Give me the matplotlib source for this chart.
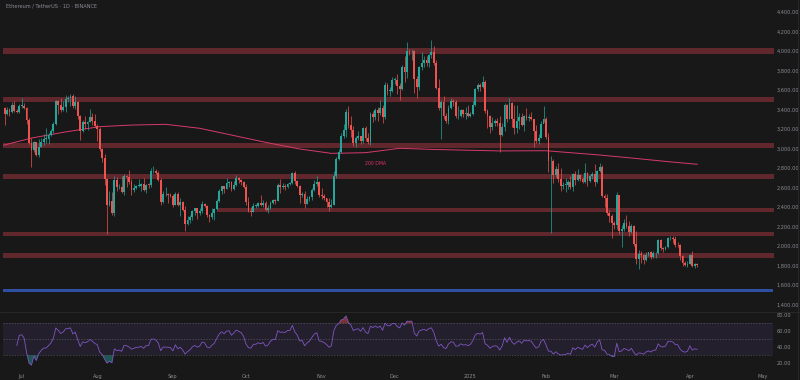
import datetime as dt
import numpy as np
import pandas as pd
import matplotlib
matplotlib.use("Agg")
import matplotlib.pyplot as plt
import matplotlib.dates as mdates
from matplotlib.ticker import FuncFormatter

# ETH/USDT daily candles, 2024-06-24 .. 2025-04-04 (open = previous close)
start_day = dt.date(2024, 6, 24)
first_open = 3420

close = [
    3350, 3390, 3370, 3450, 3380, 3375, 3435,  # Jun
    3440, 3420, 3290, 3060, 2980, 3070, 2930, 3020, 3065, 3100, 3100, 3135, 3175, 3250, 3485, 3445,
    3390, 3425, 3510, 3520, 3535, 3440, 3480, 3335, 3175, 3275, 3250, 3270, 3320, 3280, 3230,  # Jul
    3200, 2990, 2905, 2690, 2420, 2460, 2340, 2680, 2600, 2610, 2555, 2720, 2705, 2660, 2570, 2590,
    2615, 2615, 2635, 2575, 2630, 2625, 2765, 2770, 2750, 2680, 2455, 2530, 2530, 2525, 2515,  # Aug
    2425, 2535, 2420, 2450, 2370, 2225, 2270, 2300, 2360, 2385, 2340, 2360, 2435, 2415, 2315, 2295,
    2340, 2375, 2465, 2560, 2615, 2580, 2645, 2655, 2580, 2630, 2700, 2680, 2660, 2600,  # Sep
    2450, 2360, 2350, 2415, 2415, 2440, 2420, 2440, 2370, 2385, 2440, 2470, 2465, 2630, 2605, 2610,
    2605, 2640, 2645, 2745, 2665, 2620, 2525, 2535, 2435, 2480, 2505, 2570, 2635, 2660, 2520,  # Oct
    2515, 2490, 2455, 2400, 2420, 2720, 2895, 2960, 3130, 3185, 3370, 3245, 3185, 3060, 3105, 3130,
    3075, 3210, 3105, 3070, 3355, 3325, 3395, 3360, 3415, 3325, 3655, 3590, 3590, 3705,  # Nov
    3705, 3640, 3610, 3835, 3785, 4000, 3995, 4005, 3715, 3630, 3835, 3880, 3905, 3875, 3960, 3990,
    3875, 3625, 3415, 3475, 3330, 3280, 3420, 3490, 3480, 3330, 3330, 3395, 3350, 3360, 3330,  # Dec
    3355, 3450, 3605, 3655, 3635, 3685, 3380, 3330, 3220, 3265, 3280, 3265, 3135, 3225, 3450, 3305,
    3470, 3305, 3215, 3285, 3325, 3240, 3330, 3310, 3320, 3300, 3180, 3080, 3110, 3250, 3300,  # Jan
    3120, 2870, 2870, 2730, 2785, 2685, 2620, 2630, 2630, 2660, 2605, 2740, 2675, 2725, 2690, 2660,
    2745, 2670, 2715, 2740, 2660, 2765, 2815, 2510, 2495, 2335, 2305, 2235,  # Feb
    2215, 2520, 2150, 2170, 2240, 2200, 2140, 2200, 2020, 1865, 1920, 1910, 1860, 1910, 1935, 1890,
    1925, 1930, 2060, 1980, 1965, 1985, 2080, 2085, 2070, 2010, 2005, 1895, 1830, 1805, 1820,  # Mar
    1905, 1795, 1815, 1800,  # Apr
]
high = [
    3430, 3430, 3420, 3480, 3490, 3400, 3460,
    3520, 3465, 3430, 3310, 3110, 3080, 3070, 3100, 3110, 3150, 3215, 3155, 3200, 3270, 3500, 3500,
    3515, 3490, 3545, 3540, 3560, 3560, 3540, 3490, 3345, 3290, 3330, 3285, 3400, 3360, 3350,
    3250, 3220, 3010, 2940, 2700, 2560, 2550, 2720, 2710, 2640, 2720, 2740, 2730, 2780, 2690, 2640,
    2630, 2690, 2650, 2695, 2640, 2650, 2800, 2820, 2790, 2765, 2700, 2560, 2600, 2540, 2540,
    2530, 2555, 2550, 2490, 2460, 2410, 2310, 2320, 2370, 2390, 2390, 2390, 2460, 2440, 2425, 2325,
    2390, 2385, 2480, 2580, 2620, 2615, 2700, 2670, 2670, 2670, 2730, 2705, 2690, 2670,
    2640, 2500, 2400, 2440, 2430, 2450, 2520, 2470, 2460, 2420, 2460, 2480, 2480, 2650, 2690, 2650,
    2640, 2650, 2660, 2760, 2770, 2680, 2630, 2555, 2560, 2510, 2510, 2590, 2680, 2720, 2670,
    2590, 2530, 2490, 2490, 2480, 2770, 2910, 2990, 3160, 3250, 3400, 3440, 3330, 3230, 3130, 3180,
    3130, 3220, 3230, 3160, 3370, 3380, 3420, 3430, 3500, 3450, 3680, 3670, 3630, 3730,
    3730, 3760, 3670, 3860, 3950, 4090, 4020, 4020, 4010, 3740, 3850, 3990, 3950, 3950, 3970, 4110,
    4050, 3910, 3710, 3500, 3540, 3360, 3450, 3520, 3510, 3500, 3440, 3410, 3410, 3430, 3450,
    3370, 3490, 3620, 3670, 3670, 3745, 3700, 3410, 3340, 3320, 3300, 3310, 3330, 3260, 3470, 3460,
    3520, 3480, 3450, 3450, 3360, 3360, 3340, 3420, 3350, 3370, 3250, 3240, 3150, 3280, 3440,
    3320, 3160, 2920, 2890, 2820, 2850, 2800, 2660, 2700, 2680, 2720, 2750, 2770, 2790, 2730, 2710,
    2850, 2760, 2730, 2760, 2840, 2780, 2850, 2830, 2530, 2530, 2370, 2330,
    2260, 2550, 2520, 2220, 2280, 2320, 2260, 2230, 2210, 2150, 1960, 1950, 1920, 1940, 1940, 1950,
    1950, 1940, 2070, 2070, 1990, 2000, 2090, 2100, 2100, 2100, 2040, 2020, 1910, 1850, 1850,
    1920, 1950, 1830, 1830,
]
low = [
    3240, 3340, 3335, 3360, 3370, 3360, 3360,
    3420, 3400, 3250, 3050, 2810, 2960, 2920, 2910, 3015, 3040, 3060, 3050, 3125, 3160, 3240, 3350,
    3375, 3380, 3370, 3480, 3440, 3420, 3410, 3300, 3090, 3170, 3200, 3190, 3270, 3240, 3220,
    3080, 2975, 2860, 2630, 2120, 2410, 2320, 2310, 2560, 2580, 2540, 2520, 2610, 2640, 2520, 2550,
    2580, 2600, 2560, 2560, 2540, 2590, 2610, 2750, 2735, 2670, 2420, 2440, 2510, 2440, 2500,
    2400, 2420, 2410, 2310, 2360, 2150, 2220, 2240, 2270, 2320, 2280, 2320, 2335, 2400, 2300, 2250,
    2280, 2270, 2370, 2450, 2530, 2540, 2580, 2600, 2560, 2570, 2620, 2650, 2630, 2590,
    2420, 2350, 2310, 2345, 2390, 2400, 2410, 2400, 2360, 2340, 2380, 2430, 2430, 2460, 2540, 2580,
    2570, 2595, 2630, 2640, 2640, 2600, 2440, 2500, 2390, 2430, 2460, 2470, 2560, 2620, 2500,
    2480, 2470, 2400, 2360, 2390, 2420, 2700, 2880, 2950, 3110, 3120, 3210, 3120, 3030, 3020, 3090,
    3050, 3060, 3080, 3050, 3040, 3270, 3290, 3280, 3340, 3260, 3300, 3550, 3540, 3580,
    3660, 3560, 3500, 3600, 3680, 3720, 3960, 3910, 3570, 3520, 3600, 3810, 3840, 3850, 3840, 3930,
    3860, 3610, 3390, 3100, 3300, 3260, 3250, 3410, 3440, 3310, 3300, 3320, 3320, 3300, 3320,
    3320, 3340, 3440, 3590, 3590, 3620, 3360, 3210, 3160, 3190, 3230, 3230, 2960, 3130, 3180, 3270,
    3300, 3220, 3150, 3160, 3200, 3230, 3180, 3290, 3280, 3290, 3020, 3060, 3050, 3110, 3270,
    3100, 2760, 2130, 2650, 2710, 2660, 2560, 2580, 2550, 2580, 2580, 2560, 2630, 2670, 2670, 2650,
    2650, 2620, 2660, 2690, 2620, 2650, 2760, 2500, 2400, 2320, 2250, 2080,
    2170, 2170, 2120, 1990, 2150, 2180, 2100, 2130, 2000, 1810, 1760, 1830, 1820, 1850, 1900, 1870,
    1880, 1880, 1920, 1960, 1940, 1960, 1980, 2060, 2030, 1990, 1990, 1860, 1790, 1790, 1780,
    1820, 1780, 1770, 1785,
]

# 200-day moving average
ma_dates = ["2024-06-23", "2024-07-05", "2024-07-19", "2024-08-02", "2024-08-15", "2024-08-29",
            "2024-09-12", "2024-09-25", "2024-10-09", "2024-10-23", "2024-11-05", "2024-11-19",
            "2024-12-03", "2024-12-17", "2025-01-13", "2025-02-01", "2025-02-23", "2025-03-09",
            "2025-03-23", "2025-04-04"]
ma_values = [3030, 3107, 3170, 3224, 3240, 3248, 3207, 3138, 3063, 2995, 2950, 2957,
             3002, 2990, 2975, 2977, 2933, 2900, 2865, 2838]

# support / resistance zones (center, half height, start)
zone_levels = [4000, 3505, 3030, 2710, 2370, 2123, 1900]
zone_half = [34, 24, 24, 24, 24, 24, 24]
zone_start = [None, None, None, None, "2024-09-19", None, None]
blue_level = 1540

price_ticks = [1400, 1600, 1800, 2000, 2200, 2400, 2600, 2800, 3000, 3200, 3400, 3600, 3800, 4000, 4200, 4400]
rsi_ticks = [20, 40, 60, 80]
month_ticks = ["2024-07-01", "2024-08-01", "2024-09-01", "2024-10-01", "2024-11-01", "2024-12-01",
               "2025-01-01", "2025-02-01", "2025-03-01", "2025-04-01", "2025-05-01"]
month_labels = ["Jul", "Aug", "Sep", "Oct", "Nov", "Dec", "2025", "Feb", "Mar", "Apr", "May"]

bg = "#181818"
up_col = "#26a69a"
down_col = "#ef5350"
txt_col = "#8a8d94"

dates = pd.date_range(start_day, periods=len(close), freq="D")
close_s = pd.Series(close, index=dates, dtype=float)
open_s = close_s.shift(1)
open_s.iloc[0] = first_open
high_s = pd.Series(high, index=dates, dtype=float)
low_s = pd.Series(low, index=dates, dtype=float)

# RSI(14), Wilder smoothing; the first few values have no history
delta = close_s.diff()
delta.iloc[0] = close_s.iloc[0] - first_open
gain = delta.clip(lower=0).ewm(alpha=1 / 14, adjust=True).mean()
loss = (-delta.clip(upper=0)).ewm(alpha=1 / 14, adjust=True).mean()
rsi = 100 - 100 / (1 + gain / loss)
rsi.iloc[:5] = np.nan

fig = plt.figure(figsize=(8, 3.8), dpi=100, facecolor=bg)
ax = fig.add_axes([0.004, 1 - 311 / 380, 0.962, 311 / 380])
rsi_ax = fig.add_axes([0.004, 1 - 368 / 380, 0.962, 55 / 380], sharex=ax)

for a in (ax, rsi_ax):
    a.set_facecolor(bg)
    for sp in a.spines.values():
        sp.set_visible(False)
    a.tick_params(length=0, colors=txt_col, labelsize=3.6, pad=3)
    a.yaxis.tick_right()

# zones
for lvl, hh, st in zip(zone_levels, zone_half, zone_start):
    x0 = mdates.date2num(pd.Timestamp(st)) if st else mdates.date2num(pd.Timestamp("2024-06-20"))
    ax.fill_between([x0, mdates.date2num(pd.Timestamp("2025-05-10"))], lvl - hh, lvl + hh,
                    color="#e04550", alpha=0.36, linewidth=0, zorder=1)
ax.axhspan(blue_level - 15, blue_level + 15, color="#2f4fa3", linewidth=0, zorder=1)

# candles
up = close_s >= open_s
colors = np.where(up, up_col, down_col)
ax.vlines(dates, low_s, high_s, colors=colors, linewidth=0.5, zorder=3)
body_lo = np.minimum(open_s, close_s)
body_h = np.maximum(np.abs(close_s - open_s), 6)
ax.bar(dates, body_h, bottom=body_lo, width=0.75, color=colors, linewidth=0, zorder=4)

# 200 DMA
ax.plot(pd.to_datetime(ma_dates), ma_values, color="#d63a6e", linewidth=0.7, zorder=2)
ax.text(pd.Timestamp("2024-11-23"), 2841, "200 DMA", color="#e0306c", fontsize=3.3,
        ha="center", va="center", zorder=5)

ax.set_ylim(1333, 4523)
ax.set_yticks(price_ticks)
ax.yaxis.set_major_formatter(FuncFormatter(lambda v, p: f"{v:,.2f}"))
ax.set_xlim(pd.Timestamp("2024-06-23 10:00"), pd.Timestamp("2025-05-05"))
plt.setp(ax.get_xticklabels(), visible=False)

# RSI pane
rsi_ax.axhspan(30, 70, color="#7e57c2", alpha=0.12, linewidth=0)
for lv in (70, 50, 30):
    rsi_ax.axhline(lv, color="#787b86", linewidth=0.5, linestyle=(0, (2, 2)), alpha=0.6)
rsi_ax.plot(dates, rsi, color="#7e57c2", linewidth=0.6)
rsi_ax.fill_between(dates, rsi, 70, where=rsi > 70, color="#ef5350", alpha=0.45, linewidth=0, interpolate=True)
rsi_ax.fill_between(dates, rsi, 30, where=rsi < 30, color="#26a69a", alpha=0.45, linewidth=0, interpolate=True)
rsi_ax.set_ylim(14, 83)
rsi_ax.set_yticks(rsi_ticks)
rsi_ax.yaxis.set_major_formatter(FuncFormatter(lambda v, p: f"{v:.2f}"))
rsi_ax.set_xticks(pd.to_datetime(month_ticks))
rsi_ax.set_xticklabels(month_labels)
rsi_ax.tick_params(axis="x", pad=4)

# pane separator and title
fig.add_artist(plt.Line2D([0, 1], [1 - 311.5 / 380] * 2, color="#2a2a2a", linewidth=0.6))
fig.add_artist(plt.Line2D([0.9975, 0.9975], [0, 1], color="#2a2a2a", linewidth=0.6))
fig.text(0.008, 1 - 6 / 380, "Ethereum / TetherUS · 1D · BINANCE", color=txt_col, fontsize=3.6,
         ha="left", va="center")

fig.savefig("out.png", dpi=100, facecolor=bg)
